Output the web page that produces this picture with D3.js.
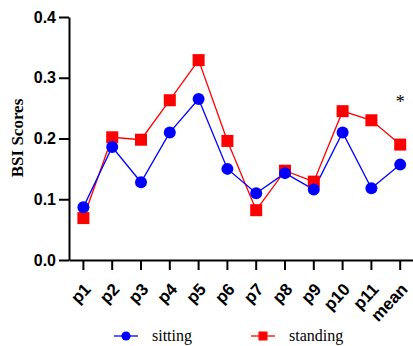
<!DOCTYPE html>
<html>
<head>
<meta charset="utf-8">
<script src="https://cdn.jsdelivr.net/npm/d3@7"></script>
<style>
  body { margin: 0; background: #fff; }
  svg { display: block; }
</style>
</head>
<body>
<figure id="chart" style="margin:0"></figure>
<script>
// chart data
const categories = ['p1', 'p2', 'p3', 'p4', 'p5', 'p6', 'p7', 'p8', 'p9', 'p10', 'p11', 'mean'];
const sitting = [0.087, 0.186, 0.128, 0.210, 0.265, 0.150, 0.110, 0.143, 0.116, 0.210, 0.118, 0.157];
const standing = [0.069, 0.202, 0.198, 0.263, 0.329, 0.196, 0.082, 0.147, 0.129, 0.245, 0.230, 0.190];
const yTicks = [0.0, 0.1, 0.2, 0.3, 0.4];
const seriesNames = ['sitting', 'standing'];

const width = 413;
const height = 346;

const svg = d3.select('figure#chart')
  .append('svg')
  .attr('width', width)
  .attr('height', height);

const x = d3.scaleBand()
  .domain(categories)
  .range([69, 414.6])
  .padding(0);

const y = d3.scaleLinear()
  .domain([0, 0.4])
  .range([260, 17]);

const sans = 'Liberation Sans, Arial, sans-serif';
const serif = 'Liberation Serif, Times New Roman, serif';

// y axis
const yAxis = svg.append('g')
  .attr('transform', 'translate(69,0)')
  .call(d3.axisLeft(y).tickValues(yTicks).tickFormat(d3.format('.1f')).tickSize(10).tickSizeOuter(0));
yAxis.select('.domain').attr('stroke', '#000').attr('stroke-width', 2);
yAxis.selectAll('.tick line').attr('stroke', '#000').attr('stroke-width', 2);
yAxis.selectAll('.tick text')
  .attr('x', -13)
  .style('font-family', sans)
  .style('font-weight', 'bold')
  .style('font-size', '16px')
  .attr('fill', '#000');

// x axis
const xAxis = svg.append('g')
  .attr('transform', 'translate(0,260)')
  .call(d3.axisBottom(x).tickSize(10).tickSizeOuter(0));
xAxis.select('.domain').attr('stroke', '#000').attr('stroke-width', 2);
xAxis.selectAll('.tick line').attr('stroke', '#000').attr('stroke-width', 2);
xAxis.selectAll('.tick text')
  .attr('x', 0)
  .attr('y', 0)
  .attr('dy', '0.35em')
  .attr('transform', 'translate(4,26) rotate(-47)')
  .style('text-anchor', 'end')
  .style('font-family', sans)
  .style('font-weight', 'bold')
  .style('font-size', '17px')
  .attr('fill', '#000');

// y axis title
svg.append('text')
  .attr('transform', 'translate(23,138) rotate(-90)')
  .attr('text-anchor', 'middle')
  .style('font-family', serif)
  .style('font-weight', 'bold')
  .style('font-size', '17px')
  .text('BSI Scores');

const cx = d => x(d) + x.bandwidth() / 2;

const line = d3.line()
  .x((d, i) => cx(categories[i]))
  .y(d => y(d));

// standing series
svg.append('path')
  .datum(standing)
  .attr('d', line)
  .attr('fill', 'none')
  .attr('stroke', '#ff0000')
  .attr('stroke-width', 1.3);

// sitting series
svg.append('path')
  .datum(sitting)
  .attr('d', line)
  .attr('fill', 'none')
  .attr('stroke', '#0000ff')
  .attr('stroke-width', 1.3);

svg.selectAll('rect.standing')
  .data(standing)
  .enter()
  .append('rect')
  .attr('class', 'standing')
  .attr('x', (d, i) => cx(categories[i]) - 6)
  .attr('y', d => y(d) - 6)
  .attr('width', 12)
  .attr('height', 12)
  .attr('fill', '#ff0000');

svg.selectAll('circle.sitting')
  .data(sitting)
  .enter()
  .append('circle')
  .attr('class', 'sitting')
  .attr('cx', (d, i) => cx(categories[i]))
  .attr('cy', d => y(d))
  .attr('r', 6)
  .attr('fill', '#0000ff');

// significance mark
svg.append('text')
  .attr('x', cx('mean'))
  .attr('y', y(0.27) + 12)
  .attr('text-anchor', 'middle')
  .style('font-family', serif)
  .style('font-size', '18px')
  .text('*');

// legend
const legend = svg.append('g');
const legendItems = [
  {name: seriesNames[0], color: '#0000ff', x0: 114, shape: 'circle'},
  {name: seriesNames[1], color: '#ff0000', x0: 251, shape: 'square'}
];
legendItems.forEach(item => {
  const g = legend.append('g').attr('transform', 'translate(' + item.x0 + ',336)');
  g.append('line')
    .attr('x1', 0).attr('x2', 24)
    .attr('stroke', item.color)
    .attr('stroke-width', 1.3);
  if (item.shape === 'circle') {
    g.append('circle').attr('cx', 12).attr('r', 4.6).attr('fill', item.color);
  } else {
    g.append('rect').attr('x', 7.5).attr('y', -4.5).attr('width', 9).attr('height', 9).attr('fill', item.color);
  }
  g.append('text')
    .attr('x', 38)
    .attr('dy', '0.32em')
    .style('font-family', serif)
    .style('font-size', '16px')
    .text(item.name);
});
</script>
</body>
</html>
